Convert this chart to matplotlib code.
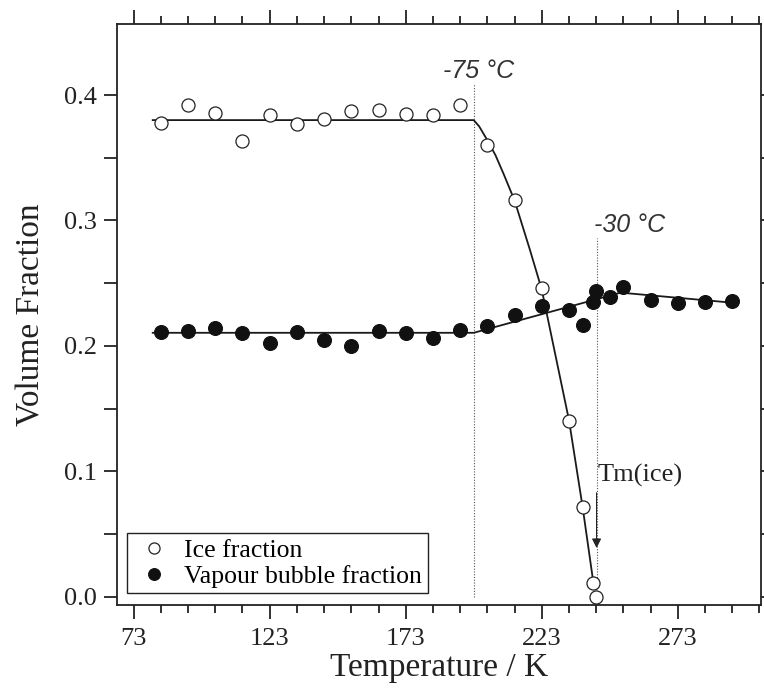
import matplotlib
matplotlib.use("Agg")
import matplotlib.pyplot as plt
from matplotlib.ticker import MultipleLocator, FixedLocator

# Measured ice volume fraction vs temperature (K)
ice_T = [83, 93, 103, 113, 123, 133, 143, 153, 163, 173, 183, 193,
         203, 213, 223, 233, 238, 242, 243]
ice_v = [0.378, 0.392, 0.386, 0.363, 0.384, 0.377, 0.381, 0.387, 0.388,
         0.385, 0.384, 0.392, 0.360, 0.316, 0.246, 0.140, 0.072, 0.011, 0.000]

# Measured vapour bubble volume fraction vs temperature (K)
vap_T = [83, 93, 103, 113, 123, 133, 143, 153, 163, 173, 183, 193,
         203, 213, 223, 233, 238, 242, 243, 248, 253, 263, 273, 283, 293]
vap_v = [0.211, 0.212, 0.214, 0.210, 0.202, 0.211, 0.205, 0.200, 0.212,
         0.210, 0.206, 0.213, 0.216, 0.225, 0.232, 0.229, 0.217, 0.235,
         0.244, 0.239, 0.247, 0.237, 0.234, 0.235, 0.236]

# Guide curves through the data
ice_fit_T = [80, 198, 200, 203, 206, 209, 213, 218.6, 223, 233, 238, 242]
ice_fit_v = [0.380, 0.380, 0.375, 0.364, 0.352, 0.337, 0.316, 0.277, 0.245, 0.141, 0.072, 0.011]
vap_fit_T = [80, 198, 252, 293]
vap_fit_v = [0.2105, 0.2105, 0.2425, 0.2345]

# Transition temperatures (K)
T_glass = 198.15   # -75 °C
T_melt = 243.15    # -30 °C

x_major = [73, 123, 173, 223, 273]
y_major = [0.0, 0.1, 0.2, 0.3, 0.4]

serif = ["Liberation Serif", "DejaVu Serif"]
plt.rcParams["font.family"] = serif

fig = plt.figure(figsize=(7.64, 6.95), dpi=100)
ax = fig.add_axes([0.1527, 0.1288, 0.8434, 0.8367])

ax.plot(ice_fit_T, ice_fit_v, color="#1a1a1a", lw=1.3, zorder=2)
ax.plot(vap_fit_T, vap_fit_v, color="#1a1a1a", lw=1.3, zorder=2)

ax.plot(ice_T, ice_v, "o", ms=9.4, mfc="white", mec="#222222", mew=0.9,
        ls="none", label="Ice fraction", zorder=4)
ax.plot(vap_T, vap_v, "o", ms=10, mfc="#111111", mec="#111111", mew=0.8,
        ls="none", label="Vapour bubble fraction", zorder=3)

ax.plot([T_glass, T_glass], [0.0, 0.409], ls=(0, (1, 1.5)), color="#555555", lw=0.8, zorder=1)
ax.plot([T_melt, T_melt], [0.0, 0.286], ls=(0, (1, 1.5)), color="#555555", lw=0.8, zorder=1)

sans_it = dict(family=["Liberation Sans", "DejaVu Sans"], style="italic", fontsize=18, color="#333333")
ax.text(199.7, 0.419, "-75 °C", ha="center", va="center", **sans_it)
ax.text(255.3, 0.2964, "-30 °C", ha="center", va="center", **sans_it)

ax.annotate("", xy=(T_melt, 0.039), xytext=(T_melt, 0.083),
            arrowprops=dict(arrowstyle="-|>", color="#222222", lw=0.8,
                            mutation_scale=14, shrinkA=0, shrinkB=0))
ax.text(243.4, 0.0965, "Tm(ice)", ha="left", va="center", fontsize=19, color="#222222")

ax.set_xlim(66.75, 303.6)
ax.set_ylim(-0.0068, 0.4566)

ax.xaxis.set_major_locator(FixedLocator(x_major))
ax.xaxis.set_minor_locator(MultipleLocator(10, offset=3))
ax.yaxis.set_major_locator(FixedLocator(y_major))
ax.yaxis.set_minor_locator(FixedLocator([0.05, 0.15, 0.25, 0.35]))
ax.set_xticklabels([str(v) for v in x_major])
ax.set_yticklabels([f"{v:.1f}" for v in y_major])

ax.tick_params(axis="x", which="both", direction="out", top=True, bottom=True,
               labelsize=19, width=1.3, colors="#222222", pad=6)
ax.tick_params(axis="x", which="major", length=10)
ax.tick_params(axis="x", which="minor", length=5.5)
ax.tick_params(axis="y", which="both", direction="out", left=True, right=True,
               labelsize=19, width=1.3, length=9.5, colors="#222222", pad=5)

for s in ax.spines.values():
    s.set_linewidth(1.3)
    s.set_color("#222222")

ax.set_xlabel("Temperature / K", fontsize=24, color="#222222", labelpad=2)
ax.set_ylabel("Volume Fraction", fontsize=24, color="#222222", labelpad=12)

leg = ax.legend(loc="lower left", bbox_to_anchor=(0.0165, 0.021), borderaxespad=0,
                fontsize=18.5, frameon=True, fancybox=False, edgecolor="#222222",
                framealpha=1, handletextpad=0.4, handlelength=1.6,
                borderpad=0.22, labelspacing=0.1, markerscale=0.85)
leg.get_frame().set_linewidth(1.0)

fig.savefig("out.png", dpi=100)
